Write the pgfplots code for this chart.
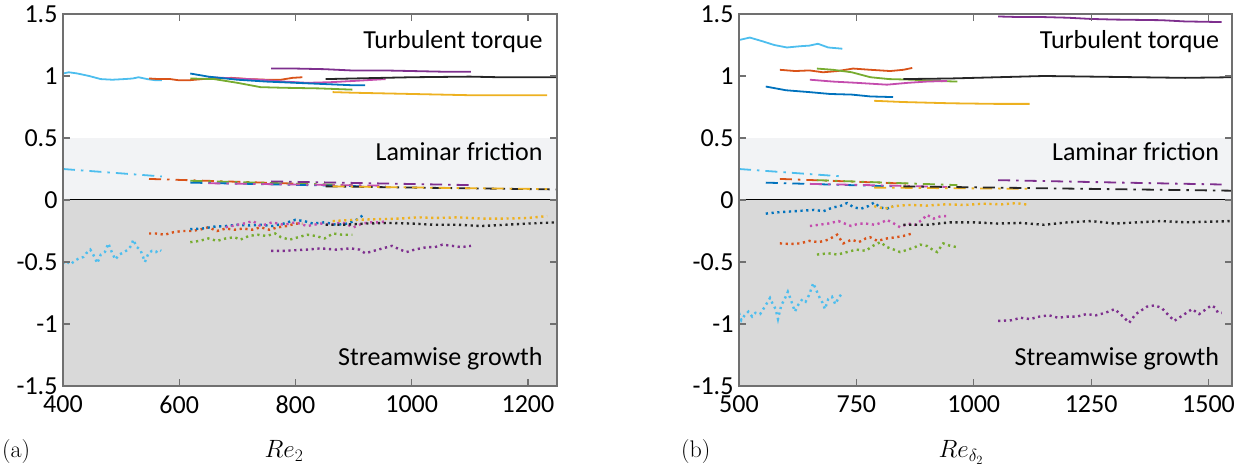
\RequirePackage{fix-cm}
\documentclass[border=0pt]{standalone}
\usepackage{fontspec}
\usepackage{pgfplots}
\pgfplotsset{compat=1.18}
\newfontfamily\carl{Carlito}
\definecolor{cLB}{HTML}{4DBEEE}
\definecolor{cOr}{HTML}{D95319}
\definecolor{cBl}{HTML}{0072BD}
\definecolor{cGr}{HTML}{77AC30}
\definecolor{cMg}{HTML}{C44DAE}
\definecolor{cPu}{HTML}{7E2F8E}
\definecolor{cYe}{HTML}{EDB120}
\definecolor{cBk}{HTML}{262626}
\definecolor{bgL}{HTML}{F2F3F5}
\definecolor{bgD}{HTML}{D9D9D9}
\definecolor{axc}{HTML}{707070}
\tikzset{
  sol/.style={line width=1.8pt},
  dd/.style={line width=1.8pt, dash pattern=on 12pt off 6pt on 2.5pt off 6pt},
  dt/.style={line width=2.4pt, dash pattern=on 2.2pt off 3.6pt},
  lbl/.style={font=\carl\fontsize{26}{30}\selectfont},
}
\pgfplotsset{
  myaxis/.style={
    scale only axis, height=372pt,
    ymin=-1.5, ymax=1.5, ytick={-1.5,-1,-0.5,0,0.5,1,1.5},
    tick align=inside, major tick length=7pt,
    axis line style={axc, line width=1.5pt},
    tick style={axc, line width=1.2pt},
    ticklabel style={font=\carl\fontsize{26}{30}\selectfont},
    xticklabel style={yshift=-6pt},
    yticklabel style={xshift=-2pt},
    /pgf/number format/assume math mode=true,
    /pgf/number format/1000 sep={},
    axis on top,
  },
}
\begin{document}
\begin{tikzpicture}
\useasboundingbox (0,0) rectangle (1255pt,468pt);
% ================= (a) =================
\begin{axis}[myaxis, at={(63pt,82pt)}, anchor=south west, width=494pt,
  xmin=400, xmax=1250, xtick={400,600,...,1200}]
\fill[bgD] (axis cs:400,-1.5) rectangle (axis cs:1250,0);
\fill[bgL] (axis cs:400,0) rectangle (axis cs:1250,0.5);
\draw[black, line width=1pt] (axis cs:400,0) -- (axis cs:1250,0);
% turbulent torque
\addplot[sol, cLB] coordinates {(400,1.02)(410,1.03)(425,1.02)(445,1.0)(465,0.975)(485,0.97)(505,0.975)(520,0.98)(530,0.99)(545,0.975)(560,0.965)(570,0.965)};
\addplot[sol, cOr] coordinates {(548,0.98)(565,0.975)(585,0.975)(600,0.965)(615,0.965)(640,0.975)(660,0.98)(690,0.985)(720,0.975)(750,0.97)(775,0.97)(795,0.985)(812,0.99)};
\addplot[sol, cMg] coordinates {(650,0.99)(700,0.98)(740,0.97)(780,0.955)(820,0.945)(860,0.95)(900,0.96)(955,0.975)};
\addplot[sol, cBl] coordinates {(619,1.02)(650,0.995)(700,0.97)(750,0.955)(800,0.945)(850,0.935)(900,0.925)(920,0.925)};
\addplot[sol, cGr] coordinates {(619,0.98)(660,0.975)(700,0.945)(740,0.91)(780,0.905)(840,0.9)(898,0.89)};
\addplot[sol, cPu] coordinates {(758,1.06)(800,1.06)(850,1.055)(895,1.045)(950,1.045)(1000,1.04)(1050,1.035)(1102,1.035)};
\addplot[sol, cBk] coordinates {(852,0.975)(900,0.98)(1000,0.99)(1100,0.995)(1150,0.99)(1250,0.99)};
\addplot[sol, cYe] coordinates {(864,0.87)(900,0.865)(1000,0.855)(1100,0.845)(1200,0.845)(1233,0.845)};
% laminar friction
\addplot[dd, cLB] coordinates {(400,0.25)(485,0.22)(570,0.19)};
\addplot[dd, cOr] coordinates {(548,0.17)(680,0.15)(812,0.13)};
\addplot[dd, cGr] coordinates {(619,0.155)(760,0.137)(898,0.12)};
\addplot[dd, cBl] coordinates {(619,0.14)(770,0.125)(920,0.11)};
\addplot[dd, cMg] coordinates {(650,0.135)(800,0.125)(955,0.115)};
\addplot[dd, cPu] coordinates {(758,0.15)(930,0.135)(1102,0.12)};
\addplot[dd, cBk] coordinates {(852,0.11)(1050,0.097)(1250,0.085)};
\addplot[dd, cYe] coordinates {(864,0.11)(1050,0.098)(1233,0.088)};
% streamwise growth
\addplot[dt, cLB] coordinates {(400,-0.51)(405,-0.49)(413,-0.52)(420,-0.49)(428,-0.47)(435,-0.46)(440,-0.43)(447,-0.40)(452,-0.44)(459,-0.51)(465,-0.44)(472,-0.42)(478,-0.35)(484,-0.42)(490,-0.48)(497,-0.44)(505,-0.42)(512,-0.40)(517,-0.37)(521,-0.32)(527,-0.38)(533,-0.40)(537,-0.45)(541,-0.50)(547,-0.43)(553,-0.41)(560,-0.42)(565,-0.40)(569,-0.41)};
\addplot[dt, cOr] coordinates {(548,-0.27)(560,-0.27)(575,-0.28)(590,-0.26)(605,-0.25)(620,-0.25)(635,-0.24)(650,-0.22)(665,-0.25)(680,-0.23)(695,-0.24)(710,-0.23)(725,-0.24)(740,-0.22)(755,-0.24)(770,-0.22)(785,-0.21)(800,-0.19)(812,-0.19)};
\addplot[dt, cBl] coordinates {(619,-0.235)(640,-0.23)(660,-0.215)(680,-0.21)(700,-0.2)(720,-0.205)(740,-0.2)(760,-0.21)(780,-0.19)(800,-0.16)(815,-0.17)(830,-0.19)(850,-0.18)(870,-0.2)(890,-0.19)(905,-0.16)(917,-0.12)};
\addplot[dt, cGr] coordinates {(619,-0.34)(635,-0.33)(650,-0.31)(665,-0.33)(680,-0.31)(695,-0.3)(705,-0.32)(720,-0.29)(735,-0.28)(750,-0.29)(765,-0.27)(775,-0.3)(790,-0.32)(805,-0.3)(820,-0.28)(835,-0.29)(850,-0.31)(865,-0.27)(880,-0.28)(898,-0.28)};
\addplot[dt, cMg] coordinates {(680,-0.22)(700,-0.2)(711,-0.19)(727,-0.17)(740,-0.21)(760,-0.18)(780,-0.2)(800,-0.18)(820,-0.21)(843,-0.19)(860,-0.2)(880,-0.18)(900,-0.22)(915,-0.19)(930,-0.18)(945,-0.18)(958,-0.17)};
\addplot[dt, cPu] coordinates {(758,-0.41)(780,-0.41)(800,-0.405)(820,-0.40)(843,-0.39)(870,-0.40)(895,-0.39)(910,-0.40)(920,-0.43)(935,-0.41)(950,-0.39)(966,-0.37)(980,-0.40)(991,-0.42)(1005,-0.40)(1026,-0.38)(1040,-0.38)(1053,-0.36)(1070,-0.37)(1085,-0.38)(1102,-0.37)};
\addplot[dt, cBk] coordinates {(852,-0.2)(880,-0.2)(920,-0.19)(960,-0.185)(1000,-0.19)(1040,-0.2)(1080,-0.2)(1120,-0.21)(1160,-0.2)(1200,-0.19)(1250,-0.18)};
\addplot[dt, cYe] coordinates {(864,-0.17)(900,-0.16)(940,-0.155)(980,-0.15)(1010,-0.14)(1040,-0.145)(1080,-0.14)(1120,-0.15)(1160,-0.15)(1200,-0.145)(1233,-0.13)};
\node[lbl, anchor=base east] at (axis description cs:0.978,0.906) {Turbulent torque};
\node[lbl, anchor=base east] at (axis description cs:0.978,0.6075) {Laminar friction};
\node[lbl, anchor=base east] at (axis description cs:0.978,0.0546) {Streamwise growth};
\end{axis}
% ================= (b) =================
\begin{axis}[myaxis, at={(739pt,82pt)}, anchor=south west, width=493pt,
  xmin=500, xmax=1550, xtick={500,750,...,1500}]
\fill[bgD] (axis cs:500,-1.5) rectangle (axis cs:1550,0);
\fill[bgL] (axis cs:500,0) rectangle (axis cs:1550,0.5);
\draw[black, line width=1pt] (axis cs:500,0) -- (axis cs:1550,0);
% turbulent torque
\addplot[sol, cLB] coordinates {(500,1.29)(523,1.31)(550,1.28)(575,1.25)(602,1.23)(630,1.24)(650,1.245)(668,1.26)(690,1.23)(720,1.22)};
\addplot[sol, cOr] coordinates {(587,1.05)(620,1.04)(650,1.045)(679,1.03)(710,1.04)(743,1.06)(780,1.05)(822,1.04)(850,1.05)(869,1.065)};
\addplot[sol, cGr] coordinates {(666,1.06)(700,1.05)(740,1.03)(780,0.99)(820,0.975)(870,0.97)(920,0.96)(965,0.955)};
\addplot[sol, cMg] coordinates {(651,0.97)(700,0.955)(750,0.945)(815,0.93)(860,0.945)(900,0.955)(943,0.96)};
\addplot[sol, cBl] coordinates {(557,0.915)(600,0.885)(650,0.87)(694,0.855)(740,0.85)(780,0.835)(828,0.83)};
\addplot[sol, cYe] coordinates {(788,0.8)(850,0.79)(950,0.78)(1050,0.775)(1119,0.775)};
\addplot[sol, cBk] coordinates {(850,0.975)(950,0.98)(1050,0.99)(1150,1.0)(1250,0.995)(1350,0.99)(1450,0.985)(1550,0.99)};
\addplot[sol, cPu] coordinates {(1052,1.48)(1100,1.475)(1150,1.475)(1200,1.47)(1250,1.46)(1300,1.455)(1400,1.45)(1450,1.44)(1528,1.435)};
% laminar friction
\addplot[dd, cLB] coordinates {(500,0.25)(610,0.22)(720,0.19)};
\addplot[dd, cBl] coordinates {(557,0.14)(690,0.125)(828,0.11)};
\addplot[dd, cOr] coordinates {(587,0.17)(730,0.15)(869,0.13)};
\addplot[dd, cMg] coordinates {(651,0.13)(800,0.118)(943,0.105)};
\addplot[dd, cGr] coordinates {(666,0.16)(815,0.14)(965,0.12)};
\addplot[dd, cYe] coordinates {(788,0.10)(950,0.095)(1119,0.09)};
\addplot[dd, cBk] coordinates {(850,0.11)(1200,0.092)(1550,0.075)};
\addplot[dd, cPu] coordinates {(1052,0.16)(1290,0.142)(1528,0.125)};
% streamwise growth
\addplot[dt, cBl] coordinates {(557,-0.11)(580,-0.1)(600,-0.095)(620,-0.09)(640,-0.085)(660,-0.08)(680,-0.09)(700,-0.06)(715,-0.05)(730,-0.025)(745,-0.06)(760,-0.07)(775,-0.05)(788,-0.02)(800,-0.06)(815,-0.07)(828,-0.05)};
\addplot[dt, cYe] coordinates {(788,-0.05)(810,-0.07)(830,-0.05)(860,-0.04)(900,-0.045)(940,-0.035)(980,-0.04)(1020,-0.03)(1060,-0.035)(1090,-0.025)(1119,-0.04)};
\addplot[dt, cMg] coordinates {(651,-0.21)(670,-0.2)(690,-0.19)(712,-0.17)(725,-0.19)(739,-0.21)(755,-0.19)(770,-0.19)(790,-0.2)(805,-0.18)(815,-0.16)(830,-0.19)(843,-0.22)(860,-0.19)(875,-0.2)(890,-0.16)(900,-0.12)(915,-0.15)(930,-0.13)(943,-0.13)};
\addplot[dt, cBk] coordinates {(850,-0.2)(900,-0.2)(950,-0.18)(1000,-0.18)(1050,-0.19)(1100,-0.185)(1150,-0.2)(1200,-0.18)(1250,-0.17)(1300,-0.19)(1350,-0.18)(1400,-0.17)(1450,-0.18)(1500,-0.175)(1550,-0.17)};
\addplot[dt, cOr] coordinates {(587,-0.35)(610,-0.355)(630,-0.35)(650,-0.33)(670,-0.34)(690,-0.32)(709,-0.28)(722,-0.35)(740,-0.32)(755,-0.34)(770,-0.31)(779,-0.30)(795,-0.33)(815,-0.31)(835,-0.30)(850,-0.29)(869,-0.27)};
\addplot[dt, cGr] coordinates {(666,-0.44)(690,-0.43)(710,-0.44)(730,-0.42)(750,-0.40)(770,-0.41)(785,-0.37)(801,-0.34)(815,-0.38)(830,-0.40)(843,-0.42)(860,-0.40)(875,-0.38)(886,-0.36)(900,-0.37)(912,-0.40)(922,-0.42)(935,-0.35)(950,-0.37)(964,-0.38)};
\addplot[dt, cLB] coordinates {(500,-0.91)(505,-0.97)(512,-0.93)(520,-0.90)(528,-0.94)(535,-0.91)(545,-0.92)(555,-0.86)(566,-0.79)(572,-0.84)(578,-0.88)(583,-0.96)(590,-0.85)(597,-0.80)(604,-0.74)(610,-0.80)(619,-0.90)(627,-0.84)(635,-0.80)(642,-0.82)(650,-0.76)(658,-0.67)(665,-0.73)(672,-0.79)(678,-0.83)(683,-0.88)(690,-0.80)(698,-0.78)(705,-0.84)(712,-0.79)(720,-0.75)};
\addplot[dt, cPu] coordinates {(1052,-0.975)(1080,-0.97)(1100,-0.95)(1120,-0.96)(1140,-0.94)(1160,-0.93)(1180,-0.95)(1200,-0.94)(1220,-0.94)(1240,-0.92)(1260,-0.93)(1280,-0.91)(1300,-0.88)(1315,-0.93)(1331,-0.99)(1345,-0.92)(1369,-0.86)(1385,-0.85)(1400,-0.87)(1415,-0.93)(1427,-0.975)(1445,-0.93)(1465,-0.88)(1480,-0.92)(1495,-0.88)(1506,-0.85)(1515,-0.87)(1520,-0.91)(1528,-0.91)};
\node[lbl, anchor=base east] at (axis description cs:0.981,0.906) {Turbulent torque};
\node[lbl, anchor=base east] at (axis description cs:0.981,0.6075) {Laminar friction};
\node[lbl, anchor=base east] at (axis description cs:0.981,0.0546) {Streamwise growth};
\end{axis}
% panel letters and axis titles
\node[anchor=base west, font=\fontsize{24}{28}\selectfont, inner sep=0pt] at (2pt,10pt) {(a)};
\node[anchor=base, font=\fontsize{25}{28}\selectfont, inner sep=0pt] at (284pt,10pt) {$Re_2$};
\node[anchor=base west, font=\fontsize{24}{28}\selectfont, inner sep=0pt] at (681pt,10pt) {(b)};
\node[anchor=base, font=\fontsize{25}{28}\selectfont, inner sep=0pt] at (961pt,10pt) {$Re_{\delta_2}$};
\end{tikzpicture}
\end{document}
